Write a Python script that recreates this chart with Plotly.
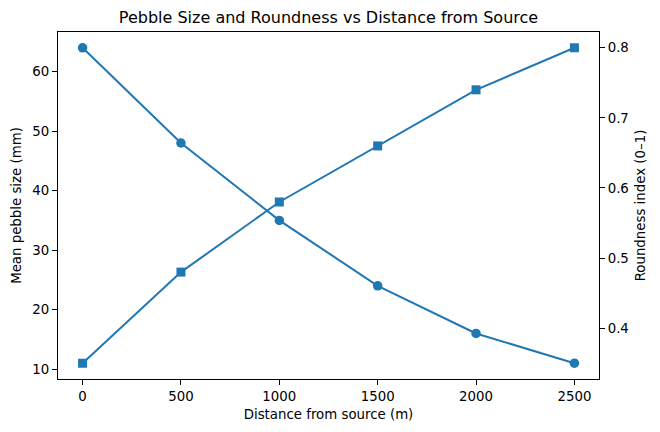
import plotly.graph_objects as go

distance = [0, 500, 1000, 1500, 2000, 2500]
pebble_size = [64, 48, 35, 24, 16, 11]
roundness = [0.35, 0.48, 0.58, 0.66, 0.74, 0.80]

COLOR = "#1f77b4"
FONT = "DejaVu Sans"


def padded(vals, frac=0.05):
    lo, hi = min(vals), max(vals)
    d = (hi - lo) * frac
    return [lo - d, hi + d]


fig = go.Figure()
fig.add_trace(go.Scatter(
    x=distance, y=pebble_size, mode="lines+markers",
    line=dict(color=COLOR, width=2),
    marker=dict(symbol="circle", size=9.5, color=COLOR),
    yaxis="y", showlegend=False,
))
fig.add_trace(go.Scatter(
    x=distance, y=roundness, mode="lines+markers",
    line=dict(color=COLOR, width=2),
    marker=dict(symbol="square", size=9, color=COLOR),
    yaxis="y2", showlegend=False,
))

axis_common = dict(
    showgrid=False, zeroline=False, showline=True, linecolor="black", linewidth=1,
    ticks="outside", ticklen=5, tickwidth=1, tickcolor="black",
    tickfont=dict(family=FONT, size=13.33, color="black"),
)

fig.update_layout(
    width=660, height=432,
    margin=dict(l=57.5, r=60.5, t=32, b=52.5),
    paper_bgcolor="white", plot_bgcolor="white",
    font=dict(family=FONT, color="black"),
    title=dict(text="Pebble Size and Roundness vs Distance from Source",
               x=0.5, xref="paper", y=1 - 17 / 432, yanchor="middle",
               font=dict(family=FONT, size=16, color="black")),
    xaxis=dict(**axis_common, range=padded(distance), tickvals=distance,
               mirror=True,
               title=dict(text="Distance from source (m)", standoff=6,
                          font=dict(family=FONT, size=13.33, color="black"))),
    yaxis=dict(**axis_common, range=padded(pebble_size),
               tickvals=[10, 20, 30, 40, 50, 60],
               title=dict(text="Mean pebble size (mm)", standoff=7,
                          font=dict(family=FONT, size=13.33, color="black"))),
    yaxis2=dict(**axis_common, range=padded(roundness), overlaying="y", side="right",
                tickvals=[0.4, 0.5, 0.6, 0.7, 0.8], tickformat=".1f",
                title=dict(text="Roundness index (0–1)", standoff=7,
                           font=dict(family=FONT, size=13.33, color="black"))),
)

fig.write_html("out.html")
